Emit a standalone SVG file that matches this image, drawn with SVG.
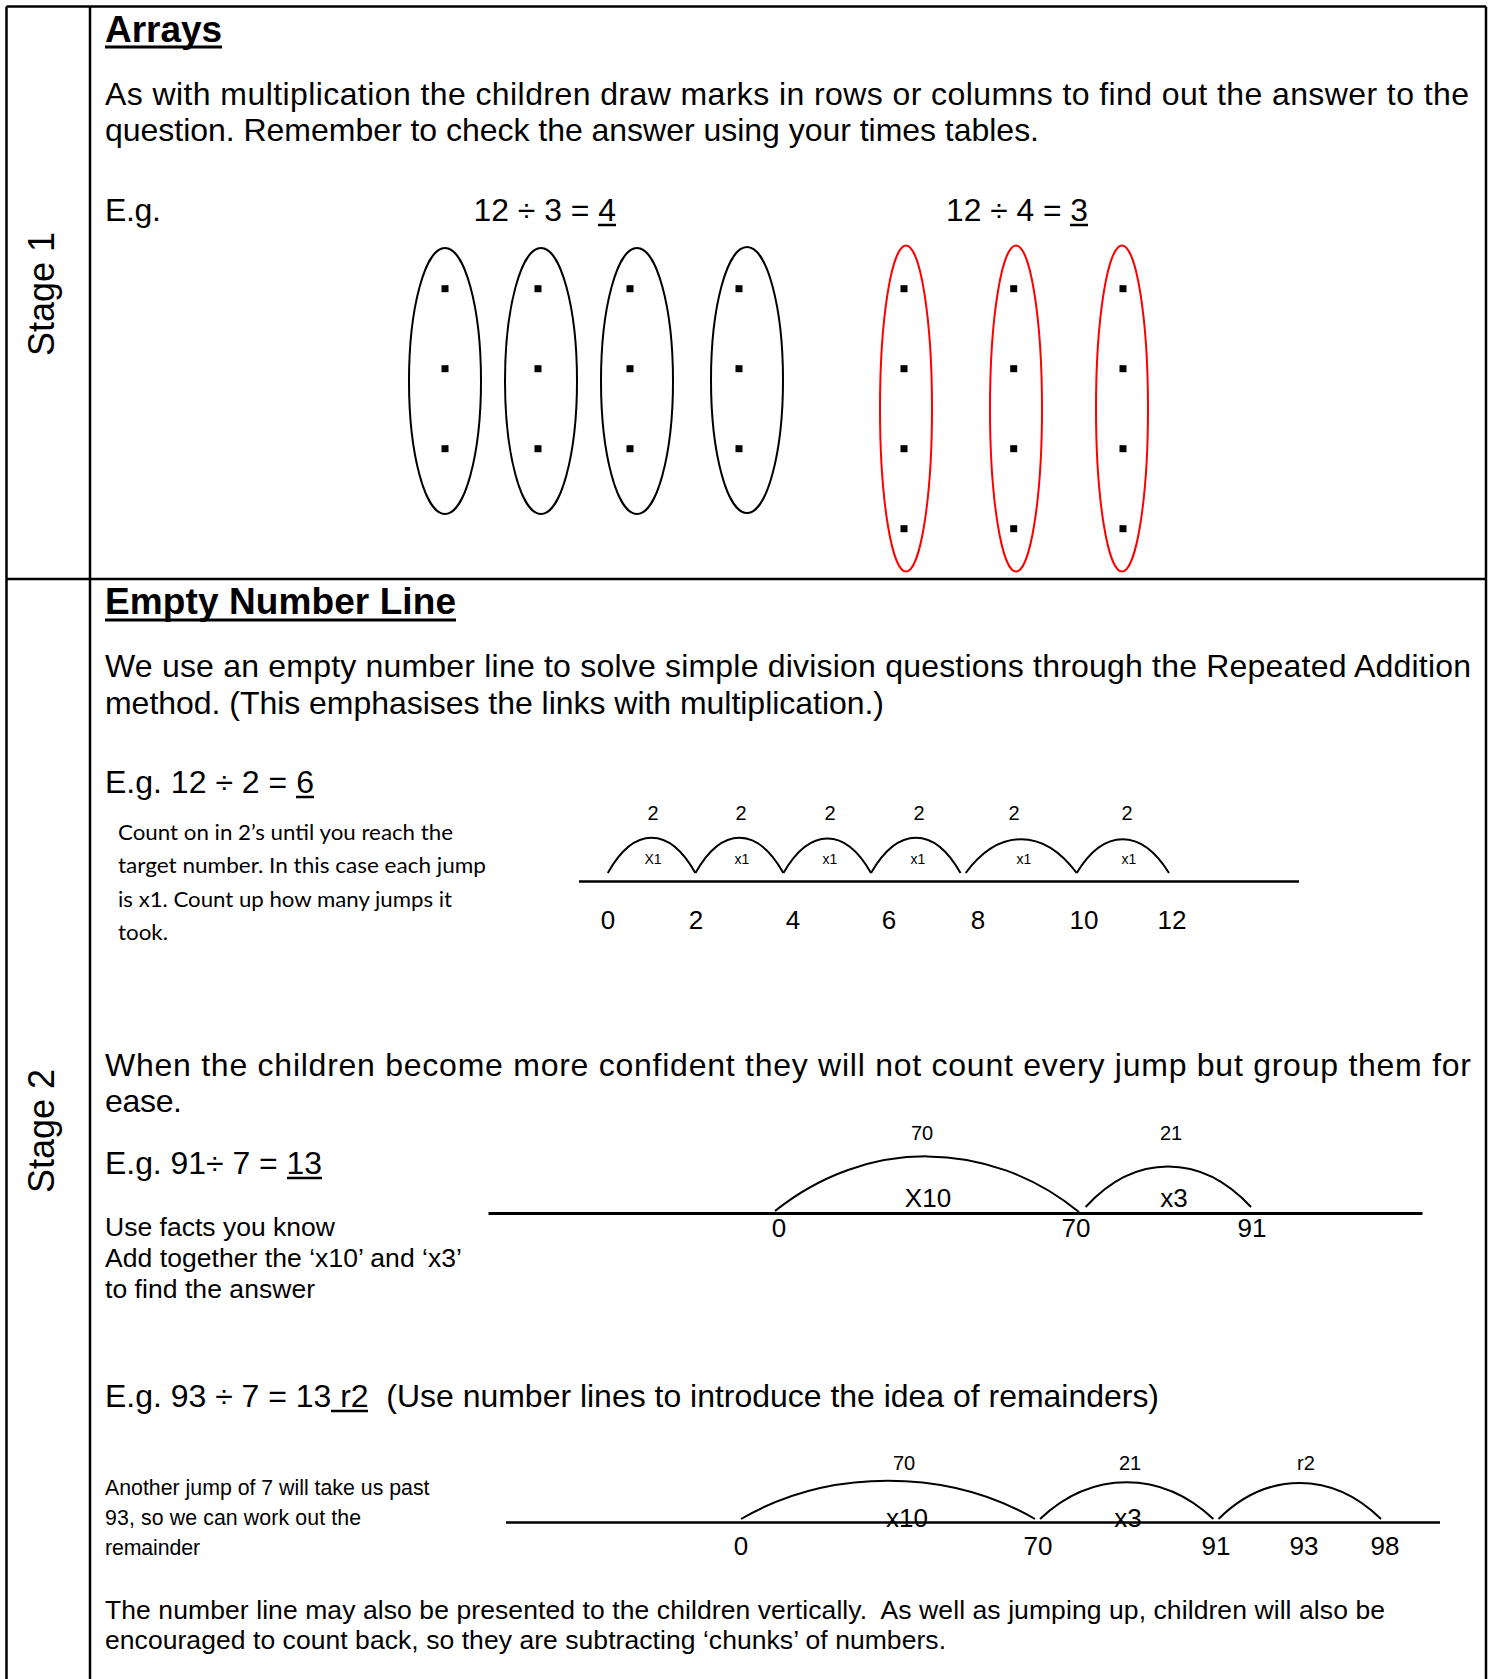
<svg xmlns="http://www.w3.org/2000/svg" width="1490" height="1679" viewBox="0 0 1490 1679">
<style>
text{font-family:"Liberation Sans",Arial,sans-serif;fill:#000}
.b{font-size:32px}
.t{font-size:37px;font-weight:bold}
.st{font-size:36px}
.m{font-size:26.5px}
.sm{font-size:21.3px}
.cal{font-family:Lato,"Open Sans",sans-serif;font-size:21.5px}
.n{font-size:26px;text-anchor:middle}
.lab{font-size:20px;text-anchor:middle}
.tiny{font-size:14px;text-anchor:middle}
.frame{stroke:#000;stroke-width:2.5;fill:none}
.ul{stroke:#000;stroke-width:2.5}
.ov{fill:none;stroke:#000;stroke-width:2}
.ovr{fill:none;stroke:#f00;stroke-width:2}
.arc{fill:none;stroke:#000;stroke-width:2}
.nl{stroke:#000;stroke-width:2.5}
</style>
<defs>
<rect id="d" x="-3.5" y="-3.5" width="7" height="7"/>
</defs>
<rect width="1490" height="1679" fill="#fff"/>

<g id="table">
<line class="frame" x1="6.5" y1="6.5" x2="1486" y2="6.5"/>
<line class="frame" x1="6.5" y1="6.5" x2="6.5" y2="1679"/>
<line class="frame" x1="90" y1="6.5" x2="90" y2="1679"/>
<line class="frame" x1="1486" y1="6.5" x2="1486" y2="1679"/>
<line class="frame" x1="6.5" y1="579" x2="1486" y2="579"/>
</g>

<g id="stage1-label"><text class="st" transform="translate(54,294) rotate(-90)" text-anchor="middle">Stage 1</text></g>
<g id="stage2-label"><text class="st" transform="translate(54,1131) rotate(-90)" text-anchor="middle">Stage 2</text></g>

<g id="arrays-text">
<text class="t" x="105" y="42" textLength="117">Arrays</text>
<line class="ul" x1="105" y1="47" x2="222" y2="47" style="stroke-width:3"/>
<text class="b" x="105" y="105" textLength="1364">As with multiplication the children draw marks in rows or columns to find out the answer to the</text>
<text class="b" x="105" y="141" textLength="934">question. Remember to check the answer using your times tables.</text>
<text class="b" x="105" y="221" textLength="56">E.g.</text>
<text class="b" x="473.5" y="221" textLength="142.5" lengthAdjust="spacingAndGlyphs">12 ÷ 3 = 4</text>
<line class="ul" x1="598" y1="225" x2="616" y2="225"/>
<text class="b" x="946" y="221" textLength="142" lengthAdjust="spacingAndGlyphs">12 ÷ 4 = 3</text>
<line class="ul" x1="1070" y1="225" x2="1088" y2="225"/>
</g>

<g id="array-groups-of-3">
<ellipse class="ov" cx="445" cy="381" rx="36" ry="133"/>
<ellipse class="ov" cx="541" cy="381" rx="36" ry="133"/>
<ellipse class="ov" cx="637" cy="381" rx="36" ry="133"/>
<ellipse class="ov" cx="747" cy="380" rx="36" ry="133"/>
<use href="#d" x="445" y="288.7"/><use href="#d" x="445" y="368.7"/><use href="#d" x="445" y="448.7"/>
<use href="#d" x="538" y="288.7"/><use href="#d" x="538" y="368.7"/><use href="#d" x="538" y="448.7"/>
<use href="#d" x="630" y="288.7"/><use href="#d" x="630" y="368.7"/><use href="#d" x="630" y="448.7"/>
<use href="#d" x="739" y="288.7"/><use href="#d" x="739" y="368.7"/><use href="#d" x="739" y="448.7"/>
</g>

<g id="array-groups-of-4">
<ellipse class="ovr" cx="906" cy="408.5" rx="26" ry="163"/>
<ellipse class="ovr" cx="1016" cy="408.5" rx="26" ry="163"/>
<ellipse class="ovr" cx="1122" cy="408.5" rx="26" ry="163"/>
<use href="#d" x="904" y="288.7"/><use href="#d" x="904" y="368.7"/><use href="#d" x="904" y="448.7"/><use href="#d" x="904" y="528.7"/>
<use href="#d" x="1013.7" y="288.7"/><use href="#d" x="1013.7" y="368.7"/><use href="#d" x="1013.7" y="448.7"/><use href="#d" x="1013.7" y="528.7"/>
<use href="#d" x="1123" y="288.7"/><use href="#d" x="1123" y="368.7"/><use href="#d" x="1123" y="448.7"/><use href="#d" x="1123" y="528.7"/>
</g>

<g id="enl-text">
<text class="t" x="105" y="614" textLength="351">Empty Number Line</text>
<line class="ul" x1="105" y1="620" x2="456" y2="620" style="stroke-width:3"/>
<text class="b" x="105" y="677" textLength="1366">We use an empty number line to solve simple division questions through the Repeated Addition</text>
<text class="b" x="105" y="714" textLength="779">method. (This emphasises the links with multiplication.)</text>
<text class="b" x="105" y="793" textLength="209" lengthAdjust="spacingAndGlyphs">E.g. 12 ÷ 2 = 6</text>
<line class="ul" x1="296" y1="797" x2="314" y2="797"/>
<text class="cal" x="118" y="840" textLength="335" lengthAdjust="spacingAndGlyphs">Count on in 2’s until you reach the</text>
<text class="cal" x="118" y="873" textLength="368" lengthAdjust="spacingAndGlyphs">target number. In this case each jump</text>
<text class="cal" x="118" y="907" textLength="334" lengthAdjust="spacingAndGlyphs">is x1. Count up how many jumps it</text>
<text class="cal" x="118" y="940" textLength="50" lengthAdjust="spacingAndGlyphs">took.</text>
</g>

<g id="numberline-12">
<line class="nl" x1="579" y1="881.5" x2="1299" y2="881.5"/>
<path class="arc" d="M607.8,873 C634,826 669,826 695.4,873"/>
<path class="arc" d="M695.4,873 C722,826 757,826 783.4,873"/>
<path class="arc" d="M783.4,873 C810,827 845,827 871,873"/>
<path class="arc" d="M871,873 C898,826 934,826 960.5,873"/>
<path class="arc" d="M965.7,873 C999,828 1043,828 1076.7,873"/>
<path class="arc" d="M1076.7,873 C1104,828 1141,828 1169,873"/>
<text class="lab" x="653" y="820">2</text>
<text class="lab" x="741" y="820">2</text>
<text class="lab" x="830" y="820">2</text>
<text class="lab" x="919" y="820">2</text>
<text class="lab" x="1014" y="820">2</text>
<text class="lab" x="1127" y="820">2</text>
<text class="tiny" x="653" y="864">X1</text>
<text class="tiny" x="742" y="864">x1</text>
<text class="tiny" x="830" y="864">x1</text>
<text class="tiny" x="918" y="864">x1</text>
<text class="tiny" x="1024" y="864">x1</text>
<text class="tiny" x="1129" y="864">x1</text>
<text class="n" x="608" y="929">0</text>
<text class="n" x="696" y="929">2</text>
<text class="n" x="793" y="929">4</text>
<text class="n" x="889" y="929">6</text>
<text class="n" x="978" y="929">8</text>
<text class="n" x="1084" y="929">10</text>
<text class="n" x="1172" y="929">12</text>
</g>

<g id="grouping-text">
<text class="b" x="105" y="1076" textLength="1366">When the children become more confident they will not count every jump but group them for</text>
<text class="b" x="105" y="1112" textLength="77">ease.</text>
<text class="b" x="105" y="1174" textLength="217" lengthAdjust="spacingAndGlyphs">E.g. 91÷ 7 = 13</text>
<line class="ul" x1="287" y1="1178" x2="322" y2="1178"/>
<text class="m" x="105" y="1236" textLength="230">Use facts you know</text>
<text class="m" x="105" y="1267" textLength="357">Add together the ‘x10’ and ‘x3’</text>
<text class="m" x="105" y="1298" textLength="210">to find the answer</text>
</g>

<g id="numberline-91">
<line class="nl" x1="488.5" y1="1213.5" x2="1422.5" y2="1213.5" style="stroke-width:3"/>
<path class="arc" d="M775,1211 C866,1138 988,1138 1079,1212"/>
<path class="arc" d="M1085.6,1207 C1135,1153 1201,1153 1251,1207"/>
<text class="lab" x="922" y="1140">70</text>
<text class="lab" x="1171" y="1140">21</text>
<text class="n" x="928" y="1207">X10</text>
<text class="n" x="1174" y="1207">x3</text>
<text class="n" x="779" y="1237">0</text>
<text class="n" x="1076" y="1237">70</text>
<text class="n" x="1252" y="1237">91</text>
</g>

<g id="remainder-text">
<text class="b" x="105" y="1407" textLength="1054" lengthAdjust="spacingAndGlyphs">E.g. 93 ÷ 7 = 13 r2&#160; (Use number lines to introduce the idea of remainders)</text>
<line class="ul" x1="331" y1="1411" x2="368" y2="1411"/>
<text class="sm" x="105" y="1495" textLength="324.5">Another jump of 7 will take us past</text>
<text class="sm" x="105" y="1525" textLength="256">93, so we can work out the</text>
<text class="sm" x="105" y="1555" textLength="95">remainder</text>
</g>

<g id="numberline-93">
<line class="nl" x1="506" y1="1522.5" x2="1440" y2="1522.5"/>
<path class="arc" d="M741,1519 C829,1468 947,1468 1035,1519"/>
<path class="arc" d="M1040,1519 C1092,1470 1161,1470 1213.4,1519"/>
<path class="arc" d="M1218.5,1519 C1267,1471 1332,1471 1381,1519"/>
<text class="lab" x="904" y="1470">70</text>
<text class="lab" x="1130" y="1470">21</text>
<text class="lab" x="1306" y="1470">r2</text>
<text class="n" x="907" y="1527">x10</text>
<text class="n" x="1128" y="1527">x3</text>
<text class="n" x="741" y="1555">0</text>
<text class="n" x="1038" y="1555">70</text>
<text class="n" x="1216" y="1555">91</text>
<text class="n" x="1304" y="1555">93</text>
<text class="n" x="1385" y="1555">98</text>
</g>

<g id="vertical-text">
<text class="m" x="105" y="1619" textLength="1280">The number line may also be presented to the children vertically.&#160; As well as jumping up, children will also be</text>
<text class="m" x="105" y="1649" textLength="841">encouraged to count back, so they are subtracting ‘chunks’ of numbers.</text>
</g>
</svg>
